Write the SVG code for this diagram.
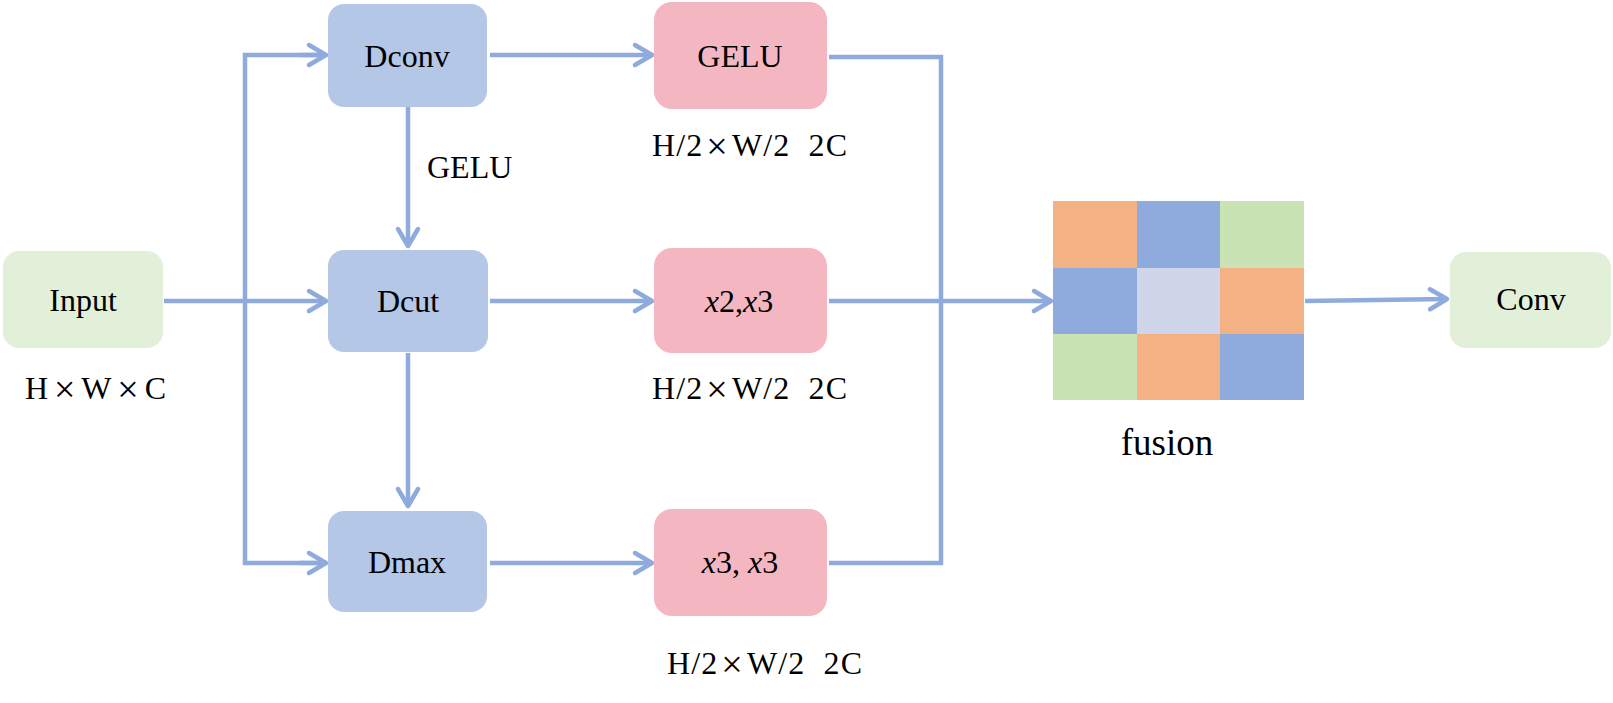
<svg xmlns="http://www.w3.org/2000/svg" width="1613" height="703" viewBox="0 0 1613 703">
  <style>
    .t { font-family: "Liberation Serif", "Times New Roman", serif; font-size: 32px; fill: #000; }
    .c { text-anchor: middle; }
    .i { font-style: italic; }
    .x { font-size: 38px; }
    .blue { fill: #B4C7E7; }
    .pink { fill: #F4B6C0; }
    .green { fill: #E2F0D9; }
    .ln { fill: none; stroke: #8FAADC; stroke-width: 4.5; stroke-linejoin: miter; }
  </style>
  <defs>
    <marker id="arr" markerUnits="userSpaceOnUse" markerWidth="30" markerHeight="30" refX="0" refY="0" orient="auto" overflow="visible">
      <path d="M-17,-10 L0,0 L-17,10" fill="none" stroke="#8FAADC" stroke-width="4.5" stroke-linecap="round" stroke-linejoin="round"/>
    </marker>
  </defs>
  <rect width="1613" height="703" fill="#fff"/>

  <g id="connectors">
    <path class="ln" d="M164,301 L326,301" marker-end="url(#arr)"/>
    <path class="ln" d="M326,55 L245,55 L245,563 L326,563"/>
    <path class="ln" d="M300,55 L326,55" marker-end="url(#arr)"/>
    <path class="ln" d="M300,563 L326,563" marker-end="url(#arr)"/>
    <path class="ln" d="M490,55 L652,55" marker-end="url(#arr)"/>
    <path class="ln" d="M408,107 L408,246" marker-end="url(#arr)"/>
    <path class="ln" d="M490,301 L652,301" marker-end="url(#arr)"/>
    <path class="ln" d="M408,353 L408,506" marker-end="url(#arr)"/>
    <path class="ln" d="M490,563 L652,563" marker-end="url(#arr)"/>
    <path class="ln" d="M829,57 L941,57 L941,563 L829,563"/>
    <path class="ln" d="M829,301 L1051,301" marker-end="url(#arr)"/>
    <path class="ln" d="M1305,301 L1447,299" marker-end="url(#arr)"/>
  </g>

  <g id="input">
    <rect class="green" x="3" y="251" width="160" height="97" rx="16"/>
    <text class="t c" x="83" y="311">Input</text>
    <text class="t" x="25" y="399" textLength="141" lengthAdjust="spacing">H<tspan class="x" dx="3" dy="3">×</tspan><tspan dx="3" dy="-3">W</tspan><tspan class="x" dx="3" dy="3">×</tspan><tspan dx="3" dy="-3">C</tspan></text>
  </g>

  <g id="dconv">
    <rect class="blue" x="328" y="4" width="159" height="103" rx="16"/>
    <text class="t c" x="407" y="67">Dconv</text>
  </g>
  <text id="gelu-label" class="t" x="427" y="178">GELU</text>

  <g id="dcut">
    <rect class="blue" x="328" y="250" width="160" height="102" rx="16"/>
    <text class="t c" x="408" y="312">Dcut</text>
  </g>

  <g id="dmax">
    <rect class="blue" x="328" y="511" width="159" height="101" rx="16"/>
    <text class="t c" x="407" y="573">Dmax</text>
  </g>

  <g id="gelu">
    <rect class="pink" x="654" y="2" width="173" height="107" rx="18"/>
    <text class="t c" x="740" y="67">GELU</text>
    <text class="t" x="652" y="156" textLength="195" lengthAdjust="spacing" xml:space="preserve">H/2<tspan class="x" dx="3" dy="3">×</tspan><tspan dx="3" dy="-3">W/2  2C</tspan></text>
  </g>

  <g id="x2x3">
    <rect class="pink" x="654" y="248" width="173" height="105" rx="18"/>
    <text class="t c" x="739" y="312"><tspan class="i">x</tspan>2,<tspan class="i">x</tspan>3</text>
    <text class="t" x="652" y="399" textLength="195" lengthAdjust="spacing" xml:space="preserve">H/2<tspan class="x" dx="3" dy="3">×</tspan><tspan dx="3" dy="-3">W/2  2C</tspan></text>
  </g>

  <g id="x3x3">
    <rect class="pink" x="654" y="509" width="173" height="107" rx="18"/>
    <text class="t c" x="740" y="573" xml:space="preserve"><tspan class="i">x</tspan>3, <tspan class="i">x</tspan>3</text>
    <text class="t" x="667" y="674" textLength="195" lengthAdjust="spacing" xml:space="preserve">H/2<tspan class="x" dx="3" dy="3">×</tspan><tspan dx="3" dy="-3">W/2  2C</tspan></text>
  </g>

  <g id="fusion">
    <rect x="1053" y="201" width="84" height="67" fill="#F4B183"/>
    <rect x="1137" y="201" width="83" height="67" fill="#8FAADC"/>
    <rect x="1220" y="201" width="84" height="67" fill="#C9E3B5"/>
    <rect x="1053" y="268" width="84" height="66" fill="#8FAADC"/>
    <rect x="1137" y="268" width="83" height="66" fill="#CFD6EA"/>
    <rect x="1220" y="268" width="84" height="66" fill="#F4B183"/>
    <rect x="1053" y="334" width="84" height="66" fill="#C9E3B5"/>
    <rect x="1137" y="334" width="83" height="66" fill="#F4B183"/>
    <rect x="1220" y="334" width="84" height="66" fill="#8FAADC"/>
    <text class="t c" x="1167" y="455" style="font-size:37px">fusion</text>
  </g>

  <g id="conv">
    <rect class="green" x="1450" y="252" width="161" height="96" rx="16"/>
    <text class="t c" x="1531" y="310">Conv</text>
  </g>
</svg>
